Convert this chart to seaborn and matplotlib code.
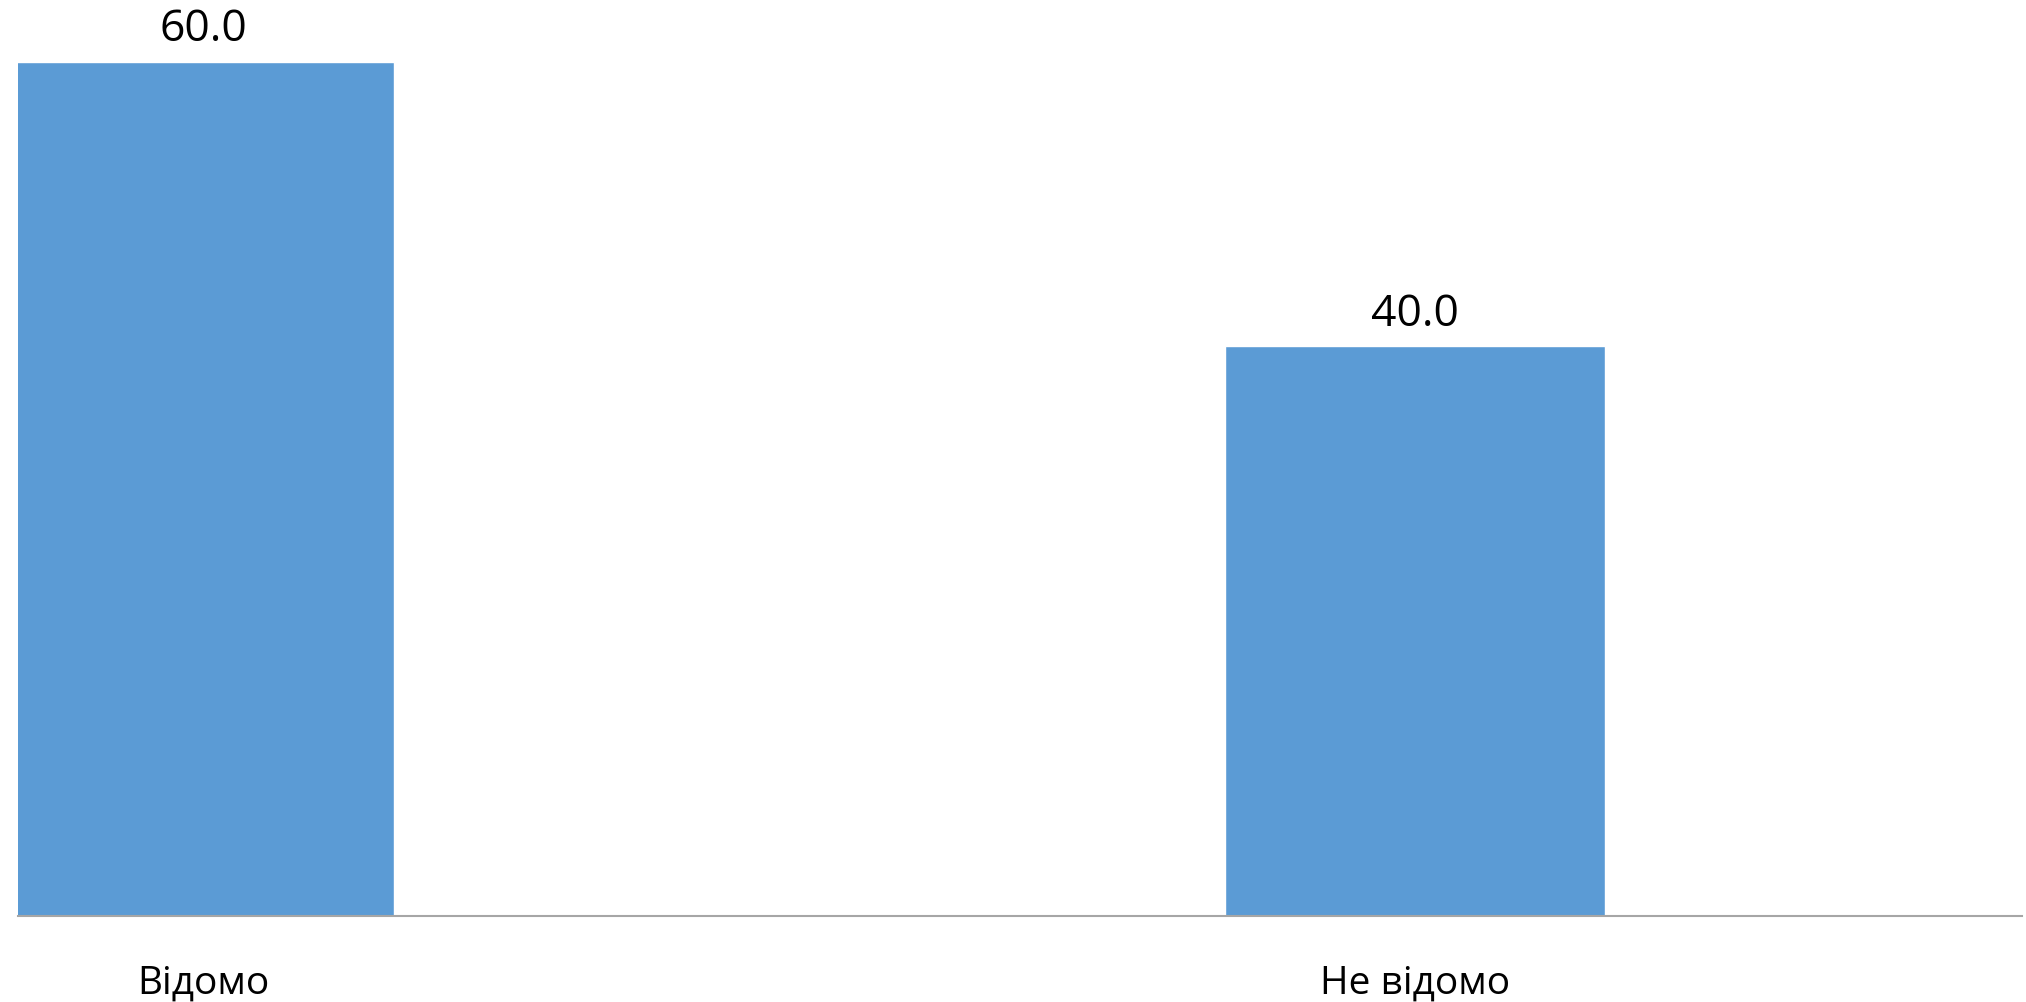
import matplotlib.pyplot as plt
import seaborn as sns
import pandas as pd

categories = ['Відомо', 'Не відомо']
values = [60.0, 40.0]

df = pd.DataFrame({'category': categories, 'value': values})

sns.set_style('white')
plt.rcParams['font.family'] = ['Open Sans', 'DejaVu Sans']

fig = plt.figure(figsize=(20.26, 10.03), dpi=100)
ax = fig.add_axes([18 / 2026, 86 / 1003, 2004 / 2026, 917 / 1003])

sns.barplot(data=df, x='category', y='value', color='#5b9bd5', saturation=1,
            width=0.314, ax=ax)

for i, v in enumerate(values):
    ax.text(i, v + 1.5, f'{v:.1f}', ha='center', va='baseline', fontsize=32,
            color='black', clip_on=False)

ax.set_xlim(-0.153, 1.501)
ax.set_ylim(0, 64.4)
ax.set_xlabel('')
ax.set_ylabel('')
ax.set_yticks([])
ax.tick_params(axis='x', length=0, pad=34, labelsize=28, colors='black')
for side in ['top', 'left', 'right']:
    ax.spines[side].set_visible(False)
ax.spines['bottom'].set_color('#a6a6a6')
ax.spines['bottom'].set_linewidth(1.5)

plt.savefig('out.png', dpi=100)
